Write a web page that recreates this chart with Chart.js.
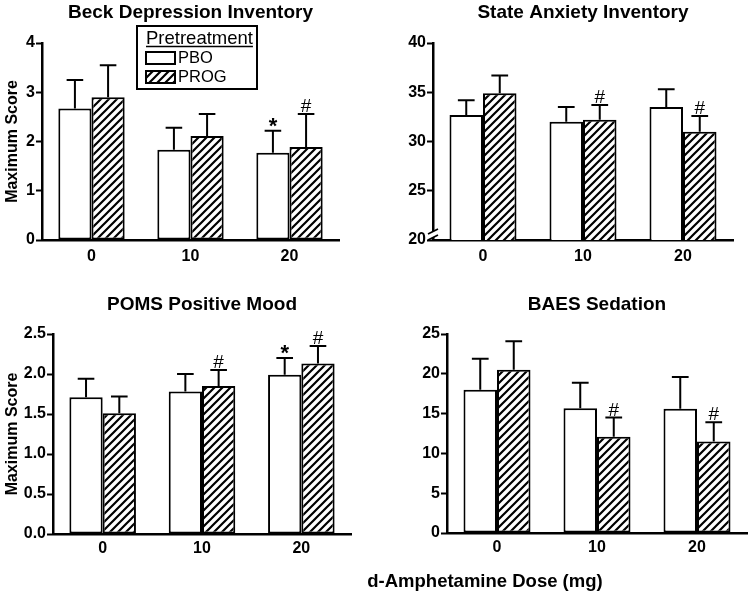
<!DOCTYPE html>
<html>
<head>
<meta charset="utf-8">
<script src="https://cdn.jsdelivr.net/npm/chart.js@4.4.0/dist/chart.umd.min.js"></script>
<style>
body { margin: 0; background: #fff; }
#wrap { position: relative; width: 753px; height: 595px; overflow: hidden; background: #fff; }
canvas { position: absolute; }
#xlab { position: absolute; left: 285px; width: 400px; top: 570px; line-height: 20px; text-align: center;
        font: bold 18.5px "Liberation Sans", Arial, sans-serif; color: #000; }
</style>
</head>
<body>
<div id="wrap">
  <canvas id="c1" width="376" height="290" style="left:0;top:0"></canvas>
  <canvas id="c2" width="377" height="290" style="left:376px;top:0"></canvas>
  <canvas id="c3" width="376" height="305" style="left:0;top:290px"></canvas>
  <canvas id="c4" width="377" height="305" style="left:376px;top:290px"></canvas>
  <div id="xlab">d-Amphetamine Dose (mg)</div>
</div>
<script>
// doses on the x axis
var doses = ['0', '10', '20'];
var groups = ['PBO', 'PROG'];

// Beck Depression Inventory
var beckPBO = [2.67, 1.83, 1.77];
var beckPBOErr = [0.58, 0.45, 0.45];
var beckPROG = [2.90, 2.11, 1.89];
var beckPROGErr = [0.65, 0.45, 0.67];
var beckPBOMarks = ['', '', '*'];
var beckPROGMarks = ['', '', '#'];

// State Anxiety Inventory
var staiPBO = [32.7, 32.0, 33.5];
var staiPBOErr = [1.5, 1.5, 1.8];
var staiPROG = [34.9, 32.2, 31.0];
var staiPROGErr = [1.8, 1.5, 1.6];
var staiPBOMarks = ['', '', ''];
var staiPROGMarks = ['', '#', '#'];

// POMS Positive Mood
var pomsPBO = [1.71, 1.78, 1.99];
var pomsPBOErr = [0.23, 0.22, 0.21];
var pomsPROG = [1.51, 1.85, 2.13];
var pomsPROGErr = [0.21, 0.20, 0.22];
var pomsPBOMarks = ['', '', '*'];
var pomsPROGMarks = ['', '#', '#'];

// BAES Sedation
var baesPBO = [18.0, 15.66, 15.6];
var baesPBOErr = [3.9, 3.2, 4.0];
var baesPROG = [20.5, 12.1, 11.5];
var baesPROGErr = [3.6, 2.4, 2.4];
var baesPBOMarks = ['', '', ''];
var baesPROGMarks = ['', '#', '#'];

var FONT = '"Liberation Sans", Arial, sans-serif';
Chart.defaults.font.family = FONT;
Chart.defaults.color = '#000';

function makeHatch() {
    var c = document.createElement('canvas');
    c.width = 8; c.height = 8;
    var g = c.getContext('2d');
    g.fillStyle = '#fff';
    g.fillRect(0, 0, 8, 8);
    g.strokeStyle = '#000';
    g.lineWidth = 2.2;
    g.beginPath();
    g.moveTo(-1, 9); g.lineTo(9, -1);
    g.moveTo(-1, 1); g.lineTo(1, -1);
    g.moveTo(7, 9); g.lineTo(9, 7);
    g.stroke();
    return g.createPattern(c, 'repeat');
}
var hatch = makeHatch();

// error bars + significance marks
var errPlugin = {
    id: 'errbars',
    afterDatasetsDraw: function(chart, args, opts) {
        var ctx = chart.ctx;
        var y = chart.scales.y;
        ctx.save();
        ctx.strokeStyle = '#000';
        ctx.fillStyle = '#000';
        ctx.lineWidth = 2;
        chart.data.datasets.forEach(function(ds, i) {
            var meta = chart.getDatasetMeta(i);
            meta.data.forEach(function(bar, j) {
                var top = y.getPixelForValue(ds.data[j] + opts.err[i][j]);
                var half = bar.width / 4;
                ctx.beginPath();
                ctx.moveTo(bar.x, bar.y);
                ctx.lineTo(bar.x, top);
                ctx.moveTo(bar.x - half, top);
                ctx.lineTo(bar.x + half, top);
                ctx.stroke();
                var m = opts.marks[i][j];
                if (m) {
                    ctx.textAlign = 'center';
                    ctx.textBaseline = 'alphabetic';
                    if (m === '*') {
                        ctx.font = 'bold 22px ' + FONT;
                        ctx.fillText(m, bar.x, top + 2);
                    } else {
                        ctx.font = '19px ' + FONT;
                        ctx.fillText(m, bar.x, top - 2);
                    }
                }
            });
        });
        ctx.restore();
    }
};

// legend box in the first panel
var legendPlugin = {
    id: 'boxlegend',
    afterDraw: function(chart) {
        var ctx = chart.ctx;
        ctx.save();
        ctx.strokeStyle = '#000';
        ctx.lineWidth = 2;
        ctx.strokeRect(137, 26, 120, 63);
        ctx.fillStyle = '#000';
        ctx.textBaseline = 'alphabetic';
        ctx.textAlign = 'left';
        ctx.font = '18.5px ' + FONT;
        ctx.fillText('Pretreatment', 146, 44);
        var w = ctx.measureText('Pretreatment').width;
        ctx.lineWidth = 1.5;
        ctx.beginPath();
        ctx.moveTo(146, 46.5);
        ctx.lineTo(146 + w, 46.5);
        ctx.stroke();
        ctx.lineWidth = 2;
        ctx.fillStyle = '#fff';
        ctx.fillRect(146, 52, 29, 12);
        ctx.strokeRect(146, 52, 29, 12);
        ctx.fillStyle = hatch;
        ctx.fillRect(146, 71, 29, 12);
        ctx.strokeRect(146, 71, 29, 12);
        ctx.fillStyle = '#000';
        ctx.font = '16.5px ' + FONT;
        ctx.textBaseline = 'middle';
        ctx.fillText(groups[0], 178, 58.5);
        ctx.fillText(groups[1], 178, 77.5);
        ctx.restore();
    }
};

// y axis break (State Anxiety)
var breakPlugin = {
    id: 'axbreak',
    afterDraw: function(chart) {
        var ctx = chart.ctx;
        var x = chart.chartArea.left;
        var b = chart.chartArea.bottom;
        ctx.save();
        ctx.strokeStyle = '#fff';
        ctx.lineWidth = 4;
        ctx.beginPath();
        ctx.moveTo(x, b - 9);
        ctx.lineTo(x, b - 3);
        ctx.stroke();
        ctx.strokeStyle = '#000';
        ctx.lineWidth = 1.8;
        ctx.beginPath();
        ctx.moveTo(x - 5, b - 6);
        ctx.lineTo(x + 5, b - 11);
        ctx.moveTo(x - 5, b);
        ctx.lineTo(x + 5, b - 5);
        ctx.stroke();
        ctx.restore();
    }
};

function panel(id, cfg) {
    var el = document.getElementById(id);
    var W = el.width, H = el.height;
    var plugins = [errPlugin];
    if (cfg.legend) plugins.push(legendPlugin);
    if (cfg.axisBreak) plugins.push(breakPlugin);
    return new Chart(el, {
        type: 'bar',
        data: {
            labels: doses,
            datasets: [
                { label: groups[0], data: cfg.pbo, backgroundColor: '#fff', borderColor: '#000', borderWidth: 2,
                  borderSkipped: false, categoryPercentage: 0.67, barPercentage: 1.0 },
                { label: groups[1], data: cfg.prog, backgroundColor: hatch, borderColor: '#000', borderWidth: 2,
                  borderSkipped: false, categoryPercentage: 0.67, barPercentage: 1.0 }
            ]
        },
        options: {
            responsive: false,
            animation: false,
            events: [],
            layout: { padding: { left: 0, top: 0, bottom: 0, right: W - cfg.area.right } },
            plugins: {
                legend: { display: false },
                tooltip: { enabled: false },
                title: {
                    display: true, text: cfg.title, fullSize: false,
                    font: { size: 19, weight: 'bold' }, color: '#000',
                    padding: { top: cfg.titleTop, bottom: cfg.area.top - cfg.titleTop - 22.8 }
                },
                errbars: { err: [cfg.pboErr, cfg.progErr], marks: [cfg.pboMarks, cfg.progMarks] }
            },
            scales: {
                x: {
                    grid: { display: false, drawTicks: false },
                    border: { display: true, color: '#000', width: 2.5 },
                    ticks: { font: { size: 16, weight: 'bold' }, color: '#000', padding: cfg.xPad },
                    afterFit: function(s) { s.height = H - cfg.area.bottom; }
                },
                y: {
                    min: cfg.min, max: cfg.max,
                    grid: { drawOnChartArea: false, drawTicks: true, tickLength: 6, tickWidth: 2, tickColor: '#000' },
                    border: { display: true, color: '#000', width: 2.5 },
                    ticks: {
                        stepSize: cfg.step, padding: 1, font: { size: 16, weight: 'bold' }, color: '#000',
                        callback: function(v) { return cfg.dec ? v.toFixed(cfg.dec) : v; }
                    },
                    title: {
                        display: !!cfg.yTitle, text: cfg.yTitle || '', color: '#000',
                        font: { size: 16, weight: 'bold' }, padding: { top: 2.5, bottom: 0 }
                    },
                    afterFit: function(s) { s.width = cfg.area.left; }
                }
            }
        },
        plugins: plugins
    });
}

panel('c1', {
    title: 'Beck Depression Inventory', yTitle: 'Maximum Score',
    pbo: beckPBO, prog: beckPROG, pboErr: beckPBOErr, progErr: beckPROGErr,
    pboMarks: beckPBOMarks, progMarks: beckPROGMarks,
    min: 0, max: 4, step: 1, dec: 0,
    area: { left: 42, right: 339, top: 43, bottom: 240 }, titleTop: 1.6, xPad: 7, legend: true
});
panel('c2', {
    title: 'State Anxiety Inventory',
    pbo: staiPBO, prog: staiPROG, pboErr: staiPBOErr, progErr: staiPROGErr,
    pboMarks: staiPBOMarks, progMarks: staiPROGMarks,
    min: 20, max: 40, step: 5, dec: 0,
    area: { left: 57, right: 357, top: 43, bottom: 240 }, titleTop: 1.6, xPad: 7, axisBreak: true
});
panel('c3', {
    title: 'POMS Positive Mood', yTitle: 'Maximum Score',
    pbo: pomsPBO, prog: pomsPROG, pboErr: pomsPBOErr, progErr: pomsPROGErr,
    pboMarks: pomsPBOMarks, progMarks: pomsPROGMarks,
    min: 0, max: 2.5, step: 0.5, dec: 1,
    area: { left: 53, right: 351, top: 44, bottom: 244 }, titleTop: 3.6, xPad: 5
});
panel('c4', {
    title: 'BAES Sedation',
    pbo: baesPBO, prog: baesPROG, pboErr: baesPBOErr, progErr: baesPROGErr,
    pboMarks: baesPBOMarks, progMarks: baesPROGMarks,
    min: 0, max: 25, step: 5, dec: 0,
    area: { left: 71, right: 371, top: 44, bottom: 243 }, titleTop: 3.6, xPad: 5
});
</script>
</body>
</html>
